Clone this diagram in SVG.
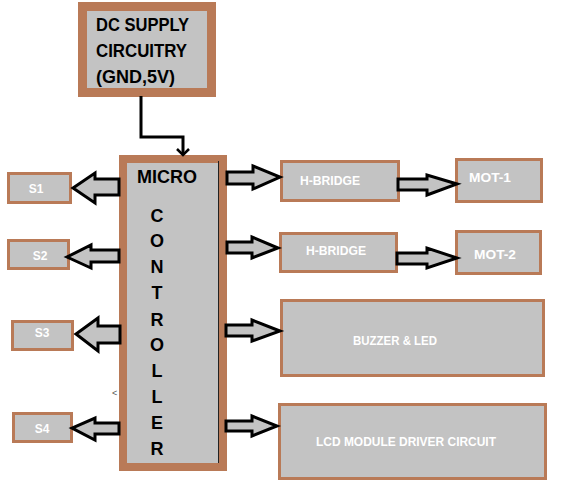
<svg xmlns="http://www.w3.org/2000/svg" width="565" height="483" viewBox="0 0 565 483">
<style>
.box{fill:#C3C3C3;stroke:#B97A57;stroke-width:3}
.thick{fill:#C3C3C3;stroke:#B97A57}
.arr{fill:#C3C3C3;stroke:#000;stroke-width:3;stroke-linejoin:miter}
.lbl{font-family:"Liberation Sans",Arial,sans-serif;font-weight:bold;fill:#FFFFFF;font-size:13px}
.dark{font-family:"Liberation Sans",Arial,sans-serif;font-weight:bold;fill:#000;font-size:19px}
.mc{font-family:"Liberation Sans",Arial,sans-serif;font-weight:bold;fill:#000;font-size:18px;text-anchor:middle}
</style>
<rect width="565" height="483" fill="#FFFFFF"/>
<g id="dc-supply">
<rect class="thick" x="82.5" y="6.5" width="129" height="86" stroke-width="9"/>
<text class="dark" x="96" y="31" textLength="93" lengthAdjust="spacingAndGlyphs">DC SUPPLY</text>
<text class="dark" x="96" y="57" textLength="91" lengthAdjust="spacingAndGlyphs">CIRCUITRY</text>
<text class="dark" x="96" y="83" textLength="79" lengthAdjust="spacingAndGlyphs">(GND,5V)</text>
</g>
<g id="microcontroller">
<rect class="thick" x="123" y="159" width="100" height="308" stroke-width="8"/>
<line x1="218.5" y1="161" x2="218.5" y2="463" stroke="#222" stroke-width="1"/>
<text class="dark" x="137" y="183" textLength="60" lengthAdjust="spacingAndGlyphs" style="font-size:18px">MICRO</text>
<text class="mc" x="157" y="222">C</text>
<text class="mc" x="157" y="247">O</text>
<text class="mc" x="157" y="273">N</text>
<text class="mc" x="157" y="299">T</text>
<text class="mc" x="157" y="326">R</text>
<text class="mc" x="157" y="351">O</text>
<text class="mc" x="157" y="377">L</text>
<text class="mc" x="157" y="403">L</text>
<text class="mc" x="157" y="429">E</text>
<text class="mc" x="157" y="455">R</text>
</g>
<g id="s1"><rect class="box" x="8.5" y="173.5" width="62" height="29"/><text class="lbl" x="36" y="193" text-anchor="middle" style="font-size:12px">S1</text></g>
<g id="s2"><rect class="box" x="8.5" y="240.5" width="60" height="28"/><text class="lbl" x="40" y="260" text-anchor="middle" style="font-size:12px">S2</text></g>
<g id="s3"><rect class="box" x="12.5" y="321.5" width="60" height="28"/><text class="lbl" x="42" y="337" text-anchor="middle" style="font-size:12px">S3</text></g>
<g id="s4"><rect class="box" x="13.5" y="413.5" width="58" height="28"/><text class="lbl" x="42" y="433" text-anchor="middle" style="font-size:12px">S4</text></g>
<g id="hbridge1"><rect class="box" x="281.5" y="161.5" width="117" height="39"/><text class="lbl" x="300" y="185" textLength="60" lengthAdjust="spacingAndGlyphs">H-BRIDGE</text></g>
<g id="mot1"><rect class="box" x="456.5" y="159.5" width="85" height="42"/><text class="lbl" x="469" y="182" textLength="42" lengthAdjust="spacingAndGlyphs">MOT-1</text></g>
<g id="hbridge2"><rect class="box" x="280.5" y="233.5" width="116" height="38"/><text class="lbl" x="306" y="255" textLength="60" lengthAdjust="spacingAndGlyphs">H-BRIDGE</text></g>
<g id="mot2"><rect class="box" x="456.5" y="231.5" width="84" height="42"/><text class="lbl" x="474" y="259" textLength="42" lengthAdjust="spacingAndGlyphs">MOT-2</text></g>
<g id="buzzer"><rect class="box" x="281.5" y="300.5" width="262" height="75"/><text class="lbl" x="353" y="345" textLength="84" lengthAdjust="spacingAndGlyphs">BUZZER &amp; LED</text></g>
<g id="lcd"><rect class="box" x="279.5" y="404.5" width="266" height="74"/><text class="lbl" x="316" y="446" textLength="180" lengthAdjust="spacingAndGlyphs">LCD MODULE DRIVER CIRCUIT</text></g>
<g id="connectors">
<polyline points="141,96 141,137 183,137 183,154" fill="none" stroke="#000" stroke-width="3"/>
<polyline points="177,149 183,155 189,149" fill="none" stroke="#000" stroke-width="2.5"/>
<polygon class="arr" points="119,179 95,179 95,173 73,188 95,203 95,195 119,195"/>
<polygon class="arr" points="119,250 91,250 91,245 67,257 91,268 91,262 119,262"/>
<polygon class="arr" points="120,326 98,326 98,318 76,334 98,351 98,343 120,343"/>
<polygon class="arr" points="119,423 95,423 95,418 72,428 95,440 95,434 119,434"/>
<polygon class="arr" points="227,172 253,172 253,166 280,177 253,189 253,184 227,184"/>
<polygon class="arr" points="227,242 252,242 252,237 278,248 252,258 252,253 227,253"/>
<polygon class="arr" points="226,325 252,325 252,320 280,331 252,341 252,336 226,336"/>
<polygon class="arr" points="226,421 252,421 252,416 277,426 252,436 252,431 226,431"/>
<polygon class="arr" points="398,179 427,179 427,175 457,184 427,195 427,190 398,190"/>
<polygon class="arr" points="397,253 427,253 427,248 457,258 427,268 427,264 397,264"/>
</g>
<text x="112" y="396" font-family="Liberation Sans, Arial, sans-serif" font-size="9" fill="#555">&lt;</text>
</svg>
